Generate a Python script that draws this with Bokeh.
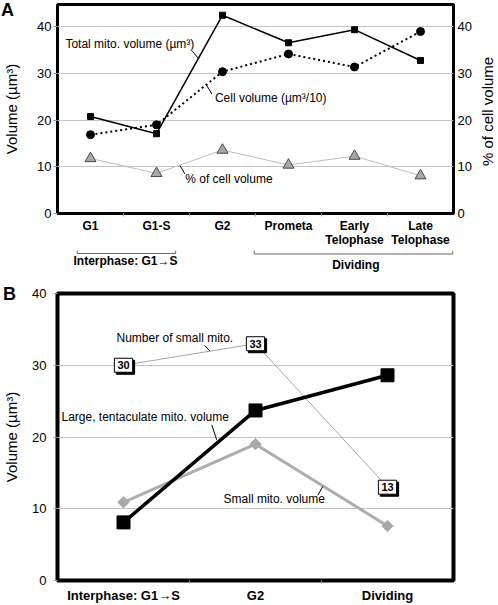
import math
from bokeh.plotting import figure
from bokeh.layouts import column
from bokeh.models import Range1d, FixedTicker, LinearAxis, Label, Div
from bokeh.core.properties import value
from bokeh.embed import file_html
from bokeh.resources import INLINE

FONT = "Liberation Sans"

# ---------------- Panel A data ----------------
stages_a = ["G1", "G1-S", "G2", "Prometa", "Early\nTelophase", "Late\nTelophase"]
total_mito_volume = [20.8, 17.1, 42.5, 36.6, 39.4, 32.8]      # µm³
cell_volume_div10 = [16.9, 19.0, 30.4, 34.2, 31.4, 39.0]      # µm³/10
pct_of_cell_volume = [11.8, 8.6, 13.6, 10.4, 12.3, 8.1]        # %
y_ticks = [0, 10, 20, 30, 40]
group_names = ["Interphase: G1\u2192S", "Dividing"]

# ---------------- Panel B data ----------------
stages_b = ["Interphase: G1\u2192S", "G2", "Dividing"]
large_mito_volume = [8.1, 23.7, 28.6]
small_mito_volume = [10.9, 19.0, 7.6]
n_small_mito = [30, 33, 13]

xa = [i + 0.5 for i in range(len(stages_a))]
xb = [i + 0.5 for i in range(len(stages_b))]

W = 498
HA, HG, HB = 250, 30, 325
A_TOP, A_FRAME_H = 4, 215


def style(p, xs, labels, xfont, outline_w, tick_standoff, label_standoff):
    p.outline_line_color = "black"
    p.outline_line_width = outline_w
    p.background_fill_color = "white"
    p.border_fill_color = "white"
    p.xgrid.visible = False
    p.ygrid.ticker = FixedTicker(ticks=y_ticks)
    p.ygrid.grid_line_color = "#c4c4c4"
    p.ygrid.grid_line_width = 1
    ax = p.xaxis[0]
    ax.ticker = FixedTicker(ticks=xs, minor_ticks=[i for i in range(1, len(xs))])
    ax.major_label_overrides = {x: s for x, s in zip(xs, labels)}
    ax.major_tick_line_color = None
    ax.major_tick_out = 0
    ax.major_tick_in = 0
    ax.minor_tick_line_color = "#9a9a9a"
    ax.minor_tick_out = 3
    ax.minor_tick_in = 0
    ax.axis_line_color = None
    ax.major_label_text_font = FONT
    ax.major_label_text_font_style = "bold"
    ax.major_label_text_font_size = xfont
    ax.major_label_text_color = "black"
    ax.major_label_text_line_height = 1.05
    ax.major_label_standoff = 2
    ay = p.yaxis[0]
    ay.ticker = FixedTicker(ticks=y_ticks)
    ay.major_tick_line_color = "#9a9a9a"
    ay.major_tick_out = 4
    ay.major_tick_in = 0
    ay.minor_tick_line_color = None
    ay.axis_line_color = None
    ay.major_label_text_font = FONT
    ay.major_label_text_font_size = "13px"
    ay.major_label_text_color = "black"
    ay.major_label_standoff = tick_standoff
    ay.axis_label = "Volume (\u00b5m\u00b3)"
    ay.axis_label_text_font = FONT
    ay.axis_label_text_font_style = "normal"
    ay.axis_label_text_font_size = "15px"
    ay.axis_label_text_color = "black"
    ay.axis_label_standoff = label_standoff


def label(p, x, y, text, size="12px", bold=False, align="left"):
    p.add_layout(Label(x=x, y=y, text=text, text_font=FONT, text_font_size=size,
                       text_font_style="bold" if bold else "normal",
                       text_align=align, text_baseline="middle", text_color="black"))


def overlay_div(text, top, fig_h, left, w, h, extra):
    # text laid over the panel just above it in the column (net height 0)
    st = {"font-family": FONT, "color": "black", "z-index": "10", "white-space": "nowrap"}
    st.update(extra)
    return Div(text=text, width=w, height=h,
               margin=(-fig_h + top, 0, fig_h - top - h, left), styles=st)


# ================= Panel A =================
pA = figure(width=W, height=HA, x_range=Range1d(0, 6), y_range=Range1d(0, 44.8),
            output_backend="svg", toolbar_location=None,
            min_border_left=53, min_border_right=45, min_border_top=A_TOP, min_border_bottom=31)
style(pA, xa, stages_a, "12px", 3, 2, 14)

ra = LinearAxis(ticker=FixedTicker(ticks=y_ticks))
ra.major_tick_line_color = None
ra.major_tick_out = 0
ra.minor_tick_line_color = None
ra.axis_line_color = None
ra.major_label_text_font = FONT
ra.major_label_text_font_size = "13px"
ra.major_label_text_color = "black"
ra.major_label_standoff = 4
pA.add_layout(ra, "right")

pA.line(xa, pct_of_cell_volume, line_color="#bdbdbd", line_width=1)
pA.scatter(xa, pct_of_cell_volume, marker="triangle", size=11,
           fill_color="#a8a8a8", line_color="#4a4a4a", line_width=1)
pA.line(xa, cell_volume_div10, line_color="black", line_width=2, line_dash="2 3")
pA.scatter(xa, cell_volume_div10, marker="circle", size=8, color="black")
pA.line(xa, total_mito_volume, line_color="black", line_width=1.5)
pA.scatter(xa, total_mito_volume, marker="square", size=6, color="black")

label(pA, 0.12, 36.3, "Total mito. volume (\u00b5m\u00b3)")
label(pA, 2.385, 24.8, "Cell volume (\u00b5m\u00b3/10)")
label(pA, 1.935, 7.5, "% of cell volume")
pA.segment(x0=[2.04, 2.255, 1.855], y0=[34.85, 27.6, 10.3],
           x1=[2.13, 2.34, 1.93], y1=[33.3, 25.6, 8.5],
           line_color="black", line_width=1)

# ========== strip with the stage-group brackets (shares panel A's x scale) ==========
pG = figure(width=W, height=HG, x_range=pA.x_range, y_range=Range1d(HG, 0),
            output_backend="svg", toolbar_location=None,
            x_axis_location=None, y_axis_location=None,
            min_border_left=53, min_border_right=45, min_border_top=0, min_border_bottom=0)
pG.outline_line_color = None
pG.xgrid.visible = False
pG.ygrid.visible = False
pG.border_fill_color = "white"

br_x0 = [0.30, 2.98]
br_x1 = [1.79, 5.99]
br_y = [3, 3.5]
br_top = [0, 0]
pG.segment(x0=br_x0, y0=br_y, x1=br_x1, y1=br_y, line_color="#666666", line_width=1)
pG.segment(x0=br_x0, y0=br_y, x1=br_x0, y1=br_top, line_color="#666666", line_width=1)
pG.segment(x0=br_x1, y0=br_y, x1=br_x1, y1=br_top, line_color="#666666", line_width=1)
pG.text(x=[1.03, 4.52], y=[10, 14.5], text=group_names,
        text_font=value(FONT), text_font_style="bold", text_font_size="12px",
        text_align="center", text_baseline="middle", text_color="black")

# ================= Panel B =================
pB = figure(width=W, height=HB, x_range=Range1d(0, 3), y_range=Range1d(0, 40),
            output_backend="svg", toolbar_location=None,
            min_border_left=53, min_border_right=42, min_border_top=13, min_border_bottom=24)
style(pB, xb, stages_b, "13px", 4, 7, 9)
pB.xaxis[0].major_label_standoff = 4
pB.xaxis[0].major_label_text_line_height = 1.2

pB.line(xb, n_small_mito, line_color="#a8a8a8", line_width=1)
pB.line(xb, small_mito_volume, line_color="#adadad", line_width=3)
pB.scatter(xb, small_mito_volume, marker="square", angle=math.pi / 4, size=8,
           fill_color="#a8a8a8", line_color="#a8a8a8")
pB.line(xb, large_mito_volume, line_color="black", line_width=3.5)
pB.scatter(xb, large_mito_volume, marker="square", size=13, color="black")

num_txt = [str(v) for v in n_small_mito]
pB.text(x=xb, y=n_small_mito, text=num_txt, x_offset=2, y_offset=2,
        text_font=value(FONT), text_font_style="bold", text_font_size="11px",
        text_align="center", text_baseline="middle", text_color="black",
        background_fill_color="black", border_line_color="black", padding=3)
pB.text(x=xb, y=n_small_mito, text=num_txt,
        text_font=value(FONT), text_font_style="bold", text_font_size="11px",
        text_align="center", text_baseline="middle", text_color="black",
        background_fill_color="white", border_line_color="black", border_line_width=1,
        padding=3)

label(pB, 0.447, 33.75, "Number of small mito.")
label(pB, 0.03, 22.8, "Large, tentaculate mito. volume")
label(pB, 1.258, 11.4, "Small mito. volume")
pB.segment(x0=[1.114, 1.169, 1.973], y0=[32.78, 21.67, 11.9],
           x1=[1.156, 1.206, 2.01], y1=[31.97, 19.6, 13.1],
           line_color="black", line_width=1)

letter_style = {"font-size": "18px", "font-weight": "bold", "line-height": "20px"}
divA = overlay_div("A", 0, HA, 1, 20, 20, letter_style)
divR = overlay_div("% of cell volume", A_TOP, HA, 478, 20, A_FRAME_H,
                   {"font-size": "15px", "line-height": "20px", "writing-mode": "vertical-rl",
                    "transform": "rotate(180deg)", "text-align": "center"})
divB = overlay_div("B", 4, HB, 3, 20, 20, letter_style)

layout = column(pA, divA, divR, pG, pB, divB, spacing=0)
open("out.html", "w").write(file_html(layout, INLINE))
